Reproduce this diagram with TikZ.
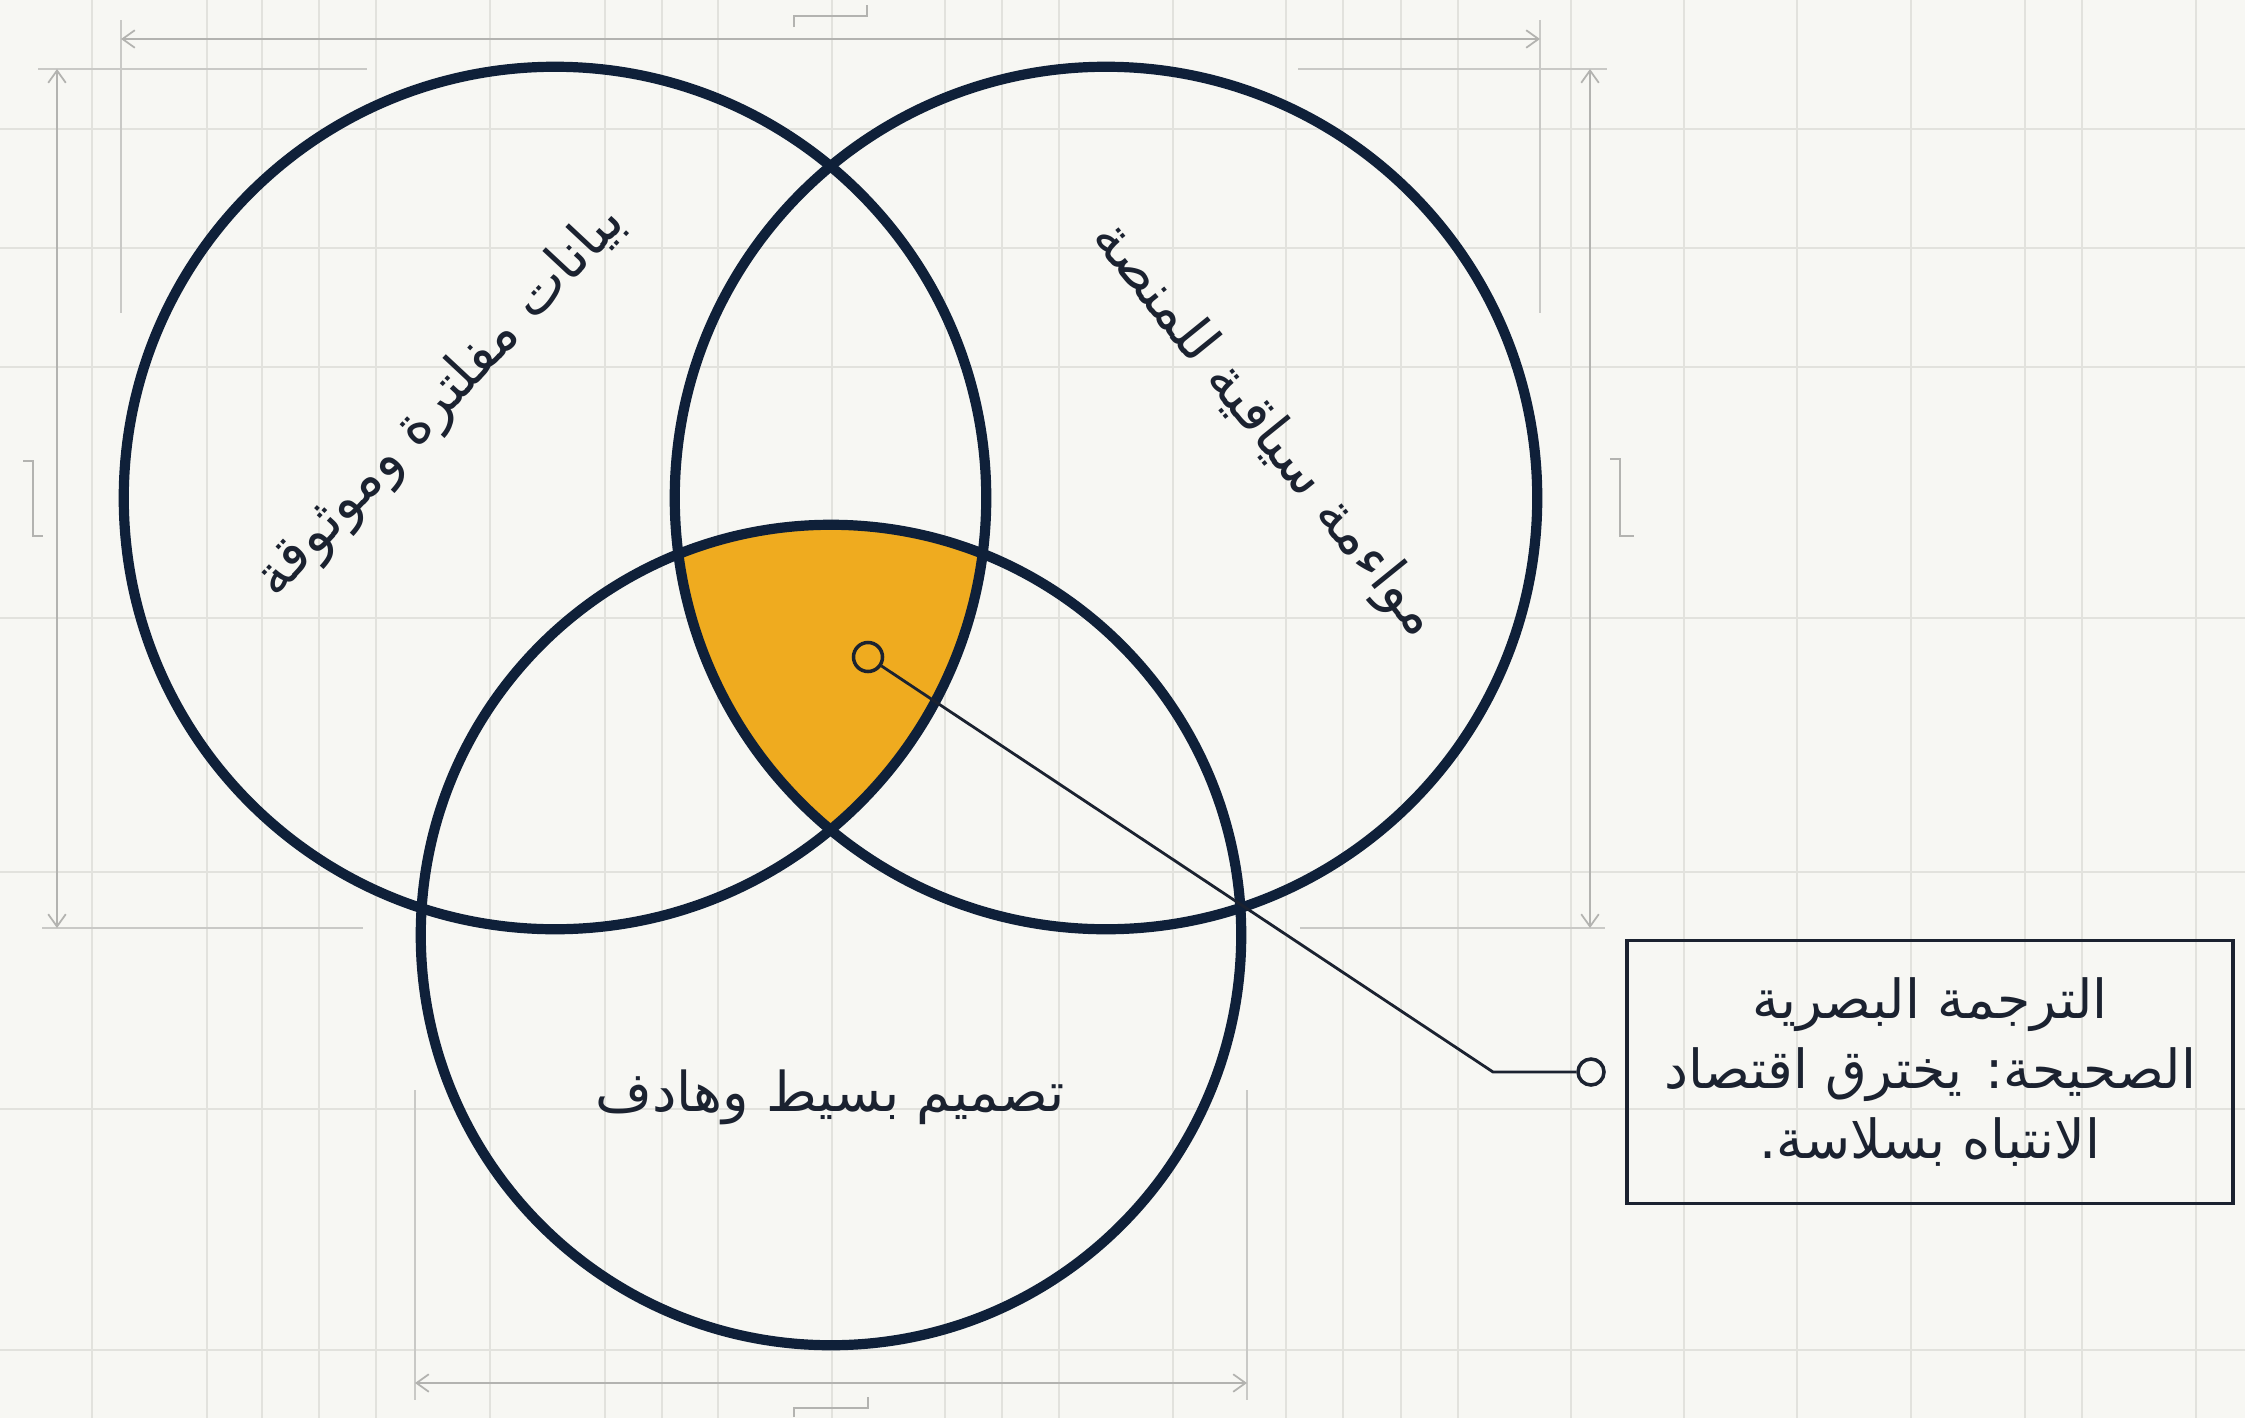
\documentclass[tikz,border=0pt]{standalone}
\usepackage{fontspec}
\TeXXeTstate=1
\newfontfamily\arabicfont[Script=Arabic]{DejaVu Sans}
\usetikzlibrary{arrows.meta}
\definecolor{bg}{HTML}{F7F7F3}
\definecolor{gridc}{HTML}{E2E2DD}
\definecolor{dimc}{HTML}{B3B3B0}
\definecolor{extc}{HTML}{C9C9C6}
\definecolor{navy}{HTML}{0F2039}
\definecolor{amber}{HTML}{EFAB1F}
\definecolor{txt}{HTML}{1B2230}
\begin{document}
\begin{tikzpicture}[x=0.01cm,y=-0.01cm,
  gridline/.style={gridc, line width=0.6pt},
  extline/.style={extc, line width=0.8pt},
  dimarrow/.style={dimc, line width=0.5pt, {Straight Barb[length=3.5pt,width=5pt]}-{Straight Barb[length=3.5pt,width=5pt]}},
  bracket/.style={dimc, line width=0.6pt},
  ring/.style={navy, line width=2.9pt},
  lbl/.style={font=\arabicfont\fontsize{16}{20}\selectfont, text=txt, inner sep=0pt},
  pin/.style={circle, draw=txt, line width=1pt, minimum size=0.29cm, inner sep=0pt},
]
\fill[bg] (0,0) rectangle (2245,1418);
\useasboundingbox (0,0) rectangle (2245,1418);

% grid
\foreach \x in {92,207,262,319,376,490,605,662,718,832,945,1002,1059,1173,1286,1343,1401,1458,1571,1684,1797,1911,2025,2082,2196}
  \draw[gridline] (\x,0) -- (\x,1418);
\foreach \y in {129,248,367,618,872,1109,1350}
  \draw[gridline] (0,\y) -- (2245,\y);

% dimension lines
\draw[extline] (121,20) -- (121,313);
\draw[extline] (1540,20) -- (1540,313);
\draw[dimarrow] (121,39) -- (1540,39);
\draw[extline] (38,69) -- (367,69);
\draw[extline] (42,928) -- (363,928);
\draw[dimarrow] (57,69) -- (57,928);
\draw[extline] (1298,69) -- (1607,69);
\draw[extline] (1300,928) -- (1605,928);
\draw[dimarrow] (1590,69) -- (1590,928);
\draw[extline] (415,1090) -- (415,1400);
\draw[extline] (1247,1090) -- (1247,1400);
\draw[dimarrow] (415,1383) -- (1247,1383);

% brackets
\draw[bracket] (794,27) -- (794,16) -- (867,16) -- (867,5);
\draw[bracket] (794,1417) -- (794,1408) -- (868,1408) -- (868,1397);
\draw[bracket] (23,461) -- (33,461) -- (33,536) -- (43,536);
\draw[bracket] (1610,459) -- (1620,459) -- (1620,536) -- (1634,536);

% venn
\begin{scope}
  \clip (555,498) circle[radius=4.31cm];
  \clip (1106,498) circle[radius=4.31cm];
  \fill[amber] (831,935) circle[radius=4.10cm];
\end{scope}
\draw[ring] (555,498) circle[radius=4.31cm];
\draw[ring] (1106,498) circle[radius=4.31cm];
\draw[ring] (831,935) circle[radius=4.10cm];

% labels
\node[lbl, rotate=47] (tl) at (441,402) {\beginR بيانات مفلترة وموثوقة\endR};
\node[lbl, rotate=-51] (tr) at (1264,430) {\beginR مواءمة سياقية للمنصة\endR};
\node[lbl, font=\arabicfont\fontsize{15.6}{20}\selectfont] (tb) at (830,1097) {\beginR تصميم بسيط وهادف\endR};

% callout
\node[pin, fill=amber] (c1) at (868,657) {};
\node[pin, fill=bg, minimum size=0.26cm] (c2) at (1591,1072) {};
\coordinate (elbow) at (1493,1072);
\draw[txt, line width=0.8pt] (c1) -- (elbow) -- (c2);
\node[lbl, font=\arabicfont\fontsize{15.3}{20}\selectfont, draw=txt, line width=1pt, minimum width=6.06cm, minimum height=2.63cm, align=center] (box) at (1930,1072)
  {\beginR الترجمة البصرية\endR\\ \beginR الصحيحة: يخترق اقتصاد\endR\\ \beginR الانتباه بسلاسة.\endR};
\end{tikzpicture}
\end{document}
